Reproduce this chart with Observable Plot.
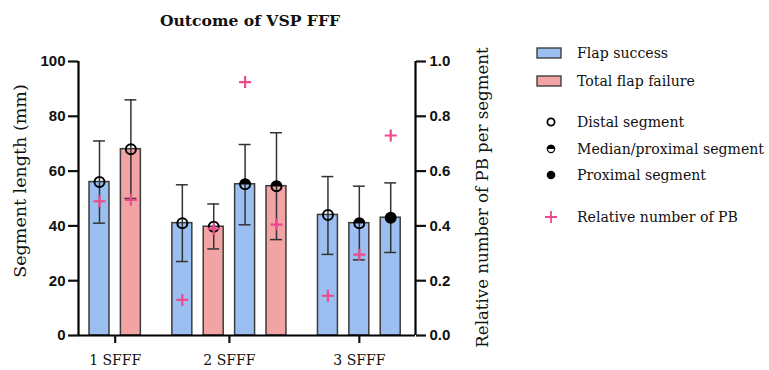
<!DOCTYPE html>
<html>
<head>
<meta charset="utf-8">
<script src="https://cdn.jsdelivr.net/npm/d3@7"></script>
<script src="https://cdn.jsdelivr.net/npm/@observablehq/plot@0.6"></script>
<style>
  html, body { margin: 0; padding: 0; background: #fff; }
  #wrap { position: relative; width: 769px; height: 370px; overflow: hidden; font-family: "DejaVu Serif", serif; color: #111; }
  #title { position: absolute; left: 0; width: 500px; top: 11px; text-align: center; font-weight: bold; font-size: 15.6px; }
  #chart { position: absolute; left: 0; top: 38px; }
  .ylab { position: absolute; white-space: nowrap; transform-origin: center center; }
  #legend { position: absolute; left: 536px; top: 0; font-size: 14.1px; }
  .li { position: absolute; white-space: nowrap; display: flex; align-items: center; }
  .li svg { display: block; }
</style>
</head>
<body>
<div id="wrap">
  <div id="title">Outcome of VSP FFF</div>
  <div id="chart"></div>
  <div class="ylab" id="ylabL">Segment length (mm)</div>
  <div class="ylab" id="ylabR">Relative number of PB per segment</div>
  <div id="legend"></div>
</div>
<script>
// ---- data ----
const groups = ["1 SFFF", "2 SFFF", "3 SFFF"];
const barGroup = [0, 0, 1, 1, 1, 1, 2, 2, 2];
const outcome = ["Flap success", "Total flap failure", "Flap success", "Total flap failure", "Flap success", "Total flap failure", "Flap success", "Flap success", "Flap success"];
const segment = ["distal", "distal", "distal", "distal", "median", "median", "distal", "median", "proximal"];
const meanLength = [56, 68, 41, 39.7, 55.2, 54.5, 44, 41, 43];
const errLow = [41, 50, 27, 31.6, 40.4, 35, 29.6, 27.6, 30.3];
const errHigh = [71, 86, 55, 48, 69.7, 74, 58, 54.5, 55.7];
const relPB = [0.49, 0.495, 0.13, 0.39, 0.925, 0.405, 0.145, 0.295, 0.73];
const leftTicks = [0, 20, 40, 60, 80, 100];
const rightTicks = [0, 0.2, 0.4, 0.6, 0.8, 1.0];

// ---- layout helpers ----
const gapUnits = 0.64;   // extra spacing between groups, in bar-slot units
const halfBar = 0.318;
const halfCap = 0.19;
const colors = {"Flap success": "#9bbff0", "Total flap failure": "#f2a3a3"};
const pink = "#ec4a8c";

const rows = meanLength.map((m, i) => ({
  pos: i + barGroup[i] * gapUnits,
  group: groups[barGroup[i]],
  outcome: outcome[i],
  segment: segment[i],
  mean: m, lo: errLow[i], hi: errHigh[i], rel: relPB[i]
}));
const lastPos = rows[rows.length - 1].pos;
const xDomain = [-0.669, lastPos + 0.79];
const centers = groups.map(g => d3.mean(rows.filter(r => r.group === g), r => r.pos));
const centerLabel = new Map(centers.map((c, i) => [c, groups[i]]));

const halfTop = { draw(ctx, size) { const r = Math.sqrt(size / Math.PI); ctx.moveTo(-r, 0); ctx.arc(0, 0, r, Math.PI, 2 * Math.PI); ctx.closePath(); } };
const plusSym = { draw(ctx, size) { const r = Math.sqrt(size / Math.PI); ctx.moveTo(-r, 0); ctx.lineTo(r, 0); ctx.moveTo(0, -r); ctx.lineTo(0, r); } };

const plot = Plot.plot({
  width: 769,
  height: 332,
  marginLeft: 78,
  marginRight: 354,
  marginTop: 23,
  marginBottom: 35,
  style: { fontFamily: "'Liberation Sans', Arial, sans-serif", color: "#111", background: "transparent" },
  x: { type: "linear", domain: xDomain },
  y: { domain: [0, 100] },
  marks: [
    Plot.rectY(rows, { x1: d => d.pos - halfBar, x2: d => d.pos + halfBar, y1: 0, y2: "mean", fill: d => colors[d.outcome], stroke: "#3c3c3c", strokeWidth: 1.5 }),
    Plot.ruleX(rows, { x: "pos", y1: "lo", y2: "hi", stroke: "#333", strokeWidth: 1.5 }),
    Plot.ruleY(rows, { y: "hi", x1: d => d.pos - halfCap, x2: d => d.pos + halfCap, stroke: "#333", strokeWidth: 1.5 }),
    Plot.ruleY(rows, { y: "lo", x1: d => d.pos - halfCap, x2: d => d.pos + halfCap, stroke: "#333", strokeWidth: 1.5 }),
    Plot.dot(rows.filter(d => d.segment !== "proximal"), { x: "pos", y: "mean", r: 5, fill: "none", stroke: "#000", strokeWidth: 2 }),
    Plot.dot(rows.filter(d => d.segment === "median"), { x: "pos", y: "mean", r: 5.5, symbol: halfTop, fill: "#000", stroke: "none" }),
    Plot.dot(rows.filter(d => d.segment === "proximal"), { x: "pos", y: "mean", r: 6, fill: "#000", stroke: "none" }),
    Plot.dot(rows, { x: "pos", y: d => d.rel * 100, r: 6, symbol: plusSym, fill: "none", stroke: pink, strokeWidth: 2.2 }),
    Plot.ruleX([xDomain[0]], { y1: 0, y2: 100, stroke: "#000", strokeWidth: 2.2 }),
    Plot.ruleX([xDomain[1]], { y1: 0, y2: 100, stroke: "#000", strokeWidth: 2.2 }),
    Plot.ruleY([0], { stroke: "#000", strokeWidth: 2.2 }),
    Plot.axisY({ anchor: "left", ticks: leftTicks, tickSize: 10, tickPadding: 3, strokeWidth: 2.2, fontSize: 15, fontWeight: "bold", label: null }),
    Plot.axisY({ anchor: "right", ticks: rightTicks.map(v => v * 100), tickFormat: d => (d / 100).toFixed(1), tickSize: 10, tickPadding: 4, strokeWidth: 2.2, fontSize: 15, fontWeight: "bold", label: null }),
    Plot.axisX({ ticks: centers, tickFormat: d => centerLabel.get(d), tickSize: 8, tickPadding: 12, strokeWidth: 2.2, fontSize: 14, fontFamily: "'DejaVu Serif', serif", label: null })
  ]
});
document.getElementById("chart").appendChild(plot);

// axis titles (rotated html text)
function placeRot(id, cx, cy, size) {
  const el = document.getElementById(id);
  el.style.fontSize = size + "px";
  const w = el.offsetWidth, h = el.offsetHeight;
  el.style.left = (cx - w / 2) + "px";
  el.style.top = (cy - h / 2) + "px";
  el.style.transform = "rotate(-90deg)";
}
placeRot("ylabL", 20, 181, 17.5);
placeRot("ylabR", 482, 197, 16.6);

// legend
const legendItems = [
  { label: "Flap success", type: "swatch", color: colors["Flap success"], y: 53 },
  { label: "Total flap failure", type: "swatch", color: colors["Total flap failure"], y: 81 },
  { label: "Distal segment", type: "open", y: 122 },
  { label: "Median/proximal segment", type: "half", y: 149 },
  { label: "Proximal segment", type: "filled", y: 175 },
  { label: "Relative number of PB", type: "plus", y: 217 }
];
const leg = document.getElementById("legend");
for (const it of legendItems) {
  const div = document.createElement("div");
  div.className = "li";
  let icon = "";
  if (it.type === "swatch") icon = `<svg width="41" height="12"><rect x="1" y="1" width="24" height="10" fill="${it.color}" stroke="#333" stroke-width="1.3"/></svg>`;
  else if (it.type === "open") icon = `<svg width="41" height="12"><circle cx="15" cy="6" r="3.6" fill="none" stroke="#000" stroke-width="1.8"/></svg>`;
  else if (it.type === "half") icon = `<svg width="41" height="12"><circle cx="15" cy="6" r="3.6" fill="none" stroke="#000" stroke-width="1.2"/><path d="M10.7,6 A4.3,4.3 0 0 1 19.3,6 Z" fill="#000"/></svg>`;
  else if (it.type === "filled") icon = `<svg width="41" height="12"><circle cx="15" cy="6" r="4.3" fill="#000"/></svg>`;
  else icon = `<svg width="41" height="14"><path d="M9,7H21M15,1V13" stroke="${pink}" stroke-width="1.8" fill="none"/></svg>`;
  div.innerHTML = icon + `<span>${it.label}</span>`;
  leg.appendChild(div);
  div.style.top = (it.y - div.offsetHeight / 2) + "px";
  div.style.left = "0px";
}
</script>
</body>
</html>
